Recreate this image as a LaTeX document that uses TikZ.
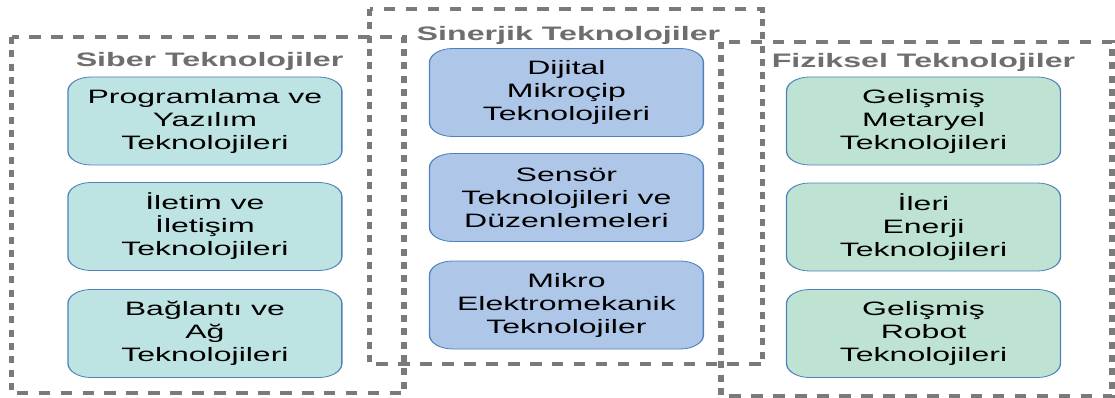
\documentclass[tikz,border=0pt]{standalone}
\usepackage{fontspec}
\setmainfont{Liberation Sans}

\definecolor{frameGray}{HTML}{7A7A7A}
\definecolor{titleGray}{HTML}{6E6E6E}
\definecolor{boxBorder}{HTML}{4F81BD}
\definecolor{siberFill}{HTML}{BDE3E3}
\definecolor{sinerjikFill}{HTML}{AEC6E7}
\definecolor{fizikselFill}{HTML}{BEE3D2}

\tikzset{
  frame/.style={draw=frameGray, line width=3.4pt, dash pattern=on 7pt off 6.3pt},
  title/.style={text=titleGray, inner sep=0pt, font=\fontsize{19.5}{22}\selectfont\bfseries},
  tech/.style={draw=boxBorder, line width=0.8pt, rounded corners=14pt,
    minimum width=166pt, minimum height=88pt, inner sep=0pt, align=center,
    font=\fontsize{19.4}{23}\selectfont}
}

\begin{document}
\begin{tikzpicture}[x=1pt,y=-1pt]
\useasboundingbox (0,0) rectangle (1115,398);

\begin{scope}[transform canvas={xscale=1.65}]

  % dashed frames
  \draw[frame] (7,37) rectangle (245,393);
  \draw[frame] (224,9) rectangle (462,364);
  \draw[frame] (437,42) rectangle (674,396);

  \node[title] (siber)    at (127,61)   {Siber Teknolojiler};
  \node[title] (sinerjik) at (344.5,35) {Sinerjik Teknolojiler};
  \node[title] (fiziksel) at (559.7,62) {Fiziksel Teknolojiler};

  \begin{scope}[every node/.style={tech, fill=siberFill}]
    \node (yazilim)  at (124.2,121)   {Programlama ve\\Yazılım\\Teknolojileri};
    \node (iletisim) at (124.2,226.5) {İletim ve\\İletişim\\Teknolojileri};
    \node (ag)       at (124.2,333.5) {Bağlantı ve\\Ağ\\Teknolojileri};
  \end{scope}

  \begin{scope}[every node/.style={tech, fill=sinerjikFill}]
    \node (mikrocip) at (343.3,92.5)  {Dijital\\Mikroçip\\Teknolojileri};
    \node (sensor)   at (343.3,197.5) {Sensör\\Teknolojileri ve\\Düzenlemeleri};
    \node (mems)     at (343.3,305)   {Mikro\\Elektromekanik\\Teknolojiler};
  \end{scope}

  \begin{scope}[every node/.style={tech, fill=fizikselFill}]
    \node (metaryel) at (559.7,121)   {Gelişmiş\\Metaryel\\Teknolojileri};
    \node (enerji)   at (559.7,227)   {İleri\\Enerji\\Teknolojileri};
    \node (robot)    at (559.7,333.5) {Gelişmiş\\Robot\\Teknolojileri};
  \end{scope}

\end{scope}

\end{tikzpicture}
\end{document}
